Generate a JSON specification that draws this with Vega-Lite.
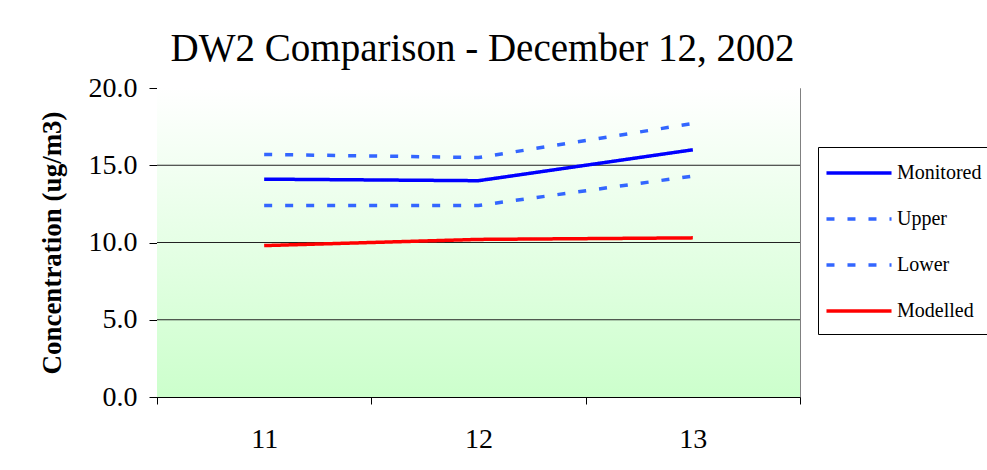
{
  "$schema": "https://vega.github.io/schema/vega-lite/v6.json",
  "width": 643,
  "height": 309,
  "autosize": {"type": "none"},
  "padding": {"left": 157, "top": 88, "right": 187, "bottom": 73},
  "background": "white",
  "title": {
    "text": "DW2 Comparison - December 12, 2002",
    "font": "Liberation Serif",
    "fontSize": 39,
    "fontWeight": "normal",
    "color": "black",
    "offset": 5,
    "anchor": "middle",
    "frame": "group",
    "dx": 4
  },
  "config": {
    "view": {"stroke": "#808080", "strokeWidth": 1}
  },
  "datasets": {
    "series": [
      {"day": "11", "series": "Monitored", "value": 14.1},
      {"day": "12", "series": "Monitored", "value": 14.0},
      {"day": "13", "series": "Monitored", "value": 16.0},
      {"day": "11", "series": "Upper", "value": 15.7},
      {"day": "12", "series": "Upper", "value": 15.5},
      {"day": "13", "series": "Upper", "value": 17.7},
      {"day": "11", "series": "Lower", "value": 12.4},
      {"day": "12", "series": "Lower", "value": 12.4},
      {"day": "13", "series": "Lower", "value": 14.3},
      {"day": "11", "series": "Modelled", "value": 9.8},
      {"day": "12", "series": "Modelled", "value": 10.2},
      {"day": "13", "series": "Modelled", "value": 10.3}
    ],
    "gridlines": [{"level": 5}, {"level": 10}, {"level": 15}]
  },
  "layer": [
    {
      "data": {"values": [{}]},
      "mark": {
        "type": "rect",
        "color": {
          "gradient": "linear",
          "x1": 0, "y1": 0, "x2": 0, "y2": 1,
          "stops": [
            {"offset": 0, "color": "#ffffff"},
            {"offset": 1, "color": "#ccffcc"}
          ]
        }
      },
      "encoding": {}
    },
    {
      "data": {"name": "gridlines"},
      "mark": {"type": "rule", "color": "#222222", "strokeWidth": 1},
      "encoding": {
        "y": {
          "field": "level",
          "type": "quantitative",
          "scale": {"domain": [0, 20], "nice": false},
          "axis": {
            "title": "Concentration  (ug/m3)",
            "values": [0, 5, 10, 15, 20],
            "format": ".1f",
            "grid": false,
            "tickSize": 8,
            "tickColor": "black",
            "domainColor": "black",
            "labelFont": "Liberation Serif",
            "labelFontSize": 28,
            "labelColor": "black",
            "labelPadding": 12,
            "titleFont": "Liberation Serif",
            "titleFontSize": 27,
            "titleFontWeight": "bold",
            "titleColor": "black",
            "titlePadding": 22
          }
        }
      }
    },
    {
      "data": {"name": "series"},
      "mark": {"type": "line", "strokeWidth": 3.5},
      "encoding": {
        "x": {
          "field": "day",
          "type": "ordinal",
          "scale": {"type": "band", "paddingInner": 0, "paddingOuter": 0},
          "axis": {
            "title": null,
            "labelAngle": 0,
            "labelFont": "Liberation Serif",
            "labelFontSize": 28,
            "labelColor": "black",
            "labelPadding": 21,
            "tickBand": "extent",
            "tickSize": 7,
            "tickColor": "black",
            "domainColor": "black",
            "grid": false
          }
        },
        "y": {
          "field": "value",
          "type": "quantitative",
          "scale": {"domain": [0, 20], "nice": false},
          "axis": {
            "title": "Concentration  (ug/m3)",
            "values": [0, 5, 10, 15, 20],
            "format": ".1f",
            "grid": false,
            "tickSize": 8,
            "tickColor": "black",
            "domainColor": "black",
            "labelFont": "Liberation Serif",
            "labelFontSize": 28,
            "labelColor": "black",
            "labelPadding": 12,
            "titleFont": "Liberation Serif",
            "titleFontSize": 27,
            "titleFontWeight": "bold",
            "titleColor": "black",
            "titlePadding": 22
          }
        },
        "color": {
          "field": "series",
          "type": "nominal",
          "scale": {
            "domain": ["Monitored", "Upper", "Lower", "Modelled"],
            "range": ["#0000ff", "#3366ff", "#3366ff", "#ff0000"]
          },
          "legend": {
            "orient": "none",
            "legendX": 661,
            "legendY": 59,
            "title": null,
            "symbolType": "M-3,0H3",
            "symbolSize": 470,
            "symbolStrokeWidth": 3.5,
            "symbolOffset": 15,
            "labelOffset": 25,
            "labelFont": "Liberation Serif",
            "labelFontSize": 20,
            "labelColor": "black",
            "rowPadding": 23,
            "padding": 13,
            "strokeColor": "black",
            "fillColor": "white",
            "cornerRadius": 0
          }
        },
        "strokeDash": {
          "field": "series",
          "type": "nominal",
          "scale": {
            "domain": ["Monitored", "Upper", "Lower", "Modelled"],
            "range": [[1, 0], [8, 13], [8, 13], [1, 0]]
          },
          "legend": {
            "orient": "none",
            "legendX": 661,
            "legendY": 59,
            "title": null,
            "symbolType": "M-3,0H3",
            "symbolSize": 470,
            "symbolStrokeWidth": 3.5,
            "symbolOffset": 15,
            "labelOffset": 25,
            "labelFont": "Liberation Serif",
            "labelFontSize": 20,
            "labelColor": "black",
            "rowPadding": 23,
            "padding": 13,
            "strokeColor": "black",
            "fillColor": "white",
            "cornerRadius": 0
          }
        }
      }
    }
  ]
}
